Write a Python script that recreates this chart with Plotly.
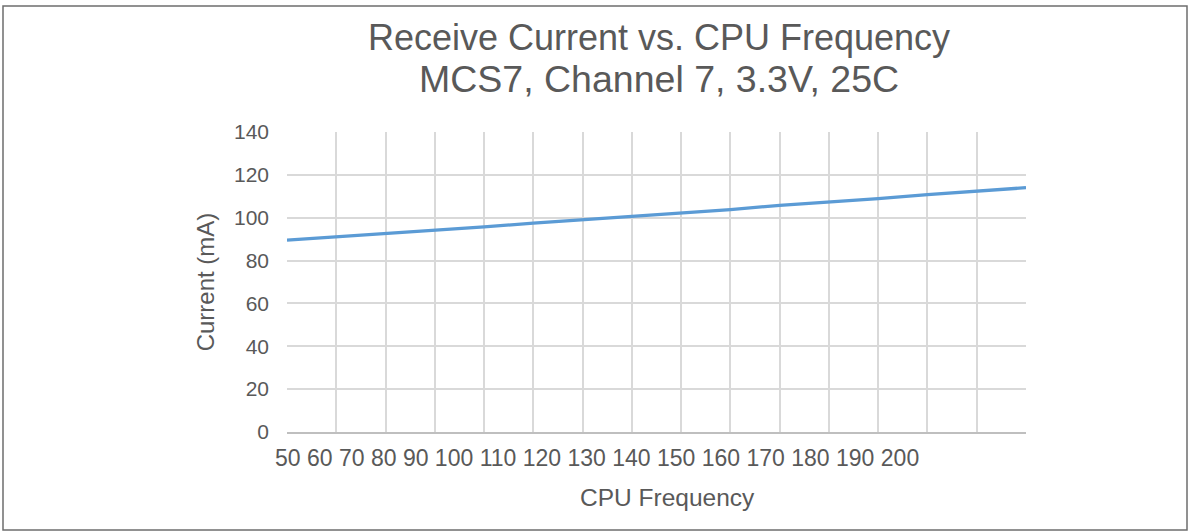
import plotly.graph_objects as go

# Data
cpu_freq = [50, 60, 70, 80, 90, 100, 110, 120, 130, 140, 150, 160, 170, 180, 190, 200]
current_ma = [89.5, 91.0, 92.6, 94.1, 95.7, 97.5, 99.1, 100.7, 102.2, 103.8,
              105.8, 107.3, 108.9, 110.8, 112.3, 114.0]
x_tick_labels = [str(v) for v in cpu_freq]
y_ticks = [0, 20, 40, 60, 80, 100, 120, 140]

title_line1 = "Receive Current vs. CPU Frequency"
title_line2 = "MCS7, Channel 7, 3.3V, 25C"

W, H = 1193, 532
L, R, T, B = 287, W - 1026, 132, H - 432
PW, PH = W - L - R, H - T - B

def px_x(px):
    return (px - L) / PW

def px_y(py):
    return (H - B - py) / PH

FONT = "Liberation Sans, Arial, sans-serif"
TXT = "#595959"
GRID = "#d9d9d9"

fig = go.Figure()
fig.add_trace(go.Scatter(
    x=cpu_freq, y=current_ma, mode="lines",
    line=dict(color="#5b9bd5", width=3.3),
    showlegend=False, hoverinfo="x+y",
))

fig.update_layout(
    width=W, height=H,
    margin=dict(l=L, r=R, t=T, b=B),
    paper_bgcolor="white", plot_bgcolor="white",
    font=dict(family=FONT, color=TXT),
    title=dict(
        text=title_line1,
        x=px_x(659), xref="paper", xanchor="center",
        y=1 - 37 / H, yanchor="middle",
        font=dict(size=36, color=TXT, family=FONT),
    ),
    xaxis=dict(
        range=[cpu_freq[0], cpu_freq[-1]], dtick=10, tick0=cpu_freq[0],
        showgrid=True, gridcolor=GRID, gridwidth=1.5,
        showticklabels=False, ticks="",
        showline=True, linecolor="#bfbfbf", linewidth=2,
        zeroline=False, fixedrange=True,
    ),
    yaxis=dict(
        range=[0, 140], tickvals=y_ticks,
        showgrid=True, gridcolor=GRID, gridwidth=1.5,
        ticks="", ticklabelstandoff=17,
        tickfont=dict(size=21, color=TXT, family=FONT),
        title=dict(text="Current (mA)", standoff=12,
                   font=dict(size=24, color=TXT, family=FONT)),
        zeroline=False, showline=False, fixedrange=True,
    ),
    annotations=[
        dict(text=title_line2, xref="paper", yref="paper",
             x=px_x(659), y=px_y(79), xanchor="center", yanchor="middle",
             showarrow=False, font=dict(size=37.5, color=TXT, family=FONT)),
        dict(text=" ".join(x_tick_labels), xref="paper", yref="paper",
             x=px_x(273), y=px_y(458), xanchor="left", yanchor="middle",
             showarrow=False, font=dict(size=23, color=TXT, family=FONT)),
        dict(text="CPU Frequency", xref="paper", yref="paper",
             x=px_x(667), y=px_y(497), xanchor="center", yanchor="middle",
             showarrow=False, font=dict(size=24.5, color=TXT, family=FONT)),
    ],
    shapes=[
        dict(type="rect", xref="paper", yref="paper", layer="above",
             x0=px_x(3), x1=px_x(1187), y0=px_y(530), y1=px_y(6),
             line=dict(color="#6e6e6e", width=1.5), fillcolor="rgba(0,0,0,0)"),
    ],
)

fig.write_html("out.html")
